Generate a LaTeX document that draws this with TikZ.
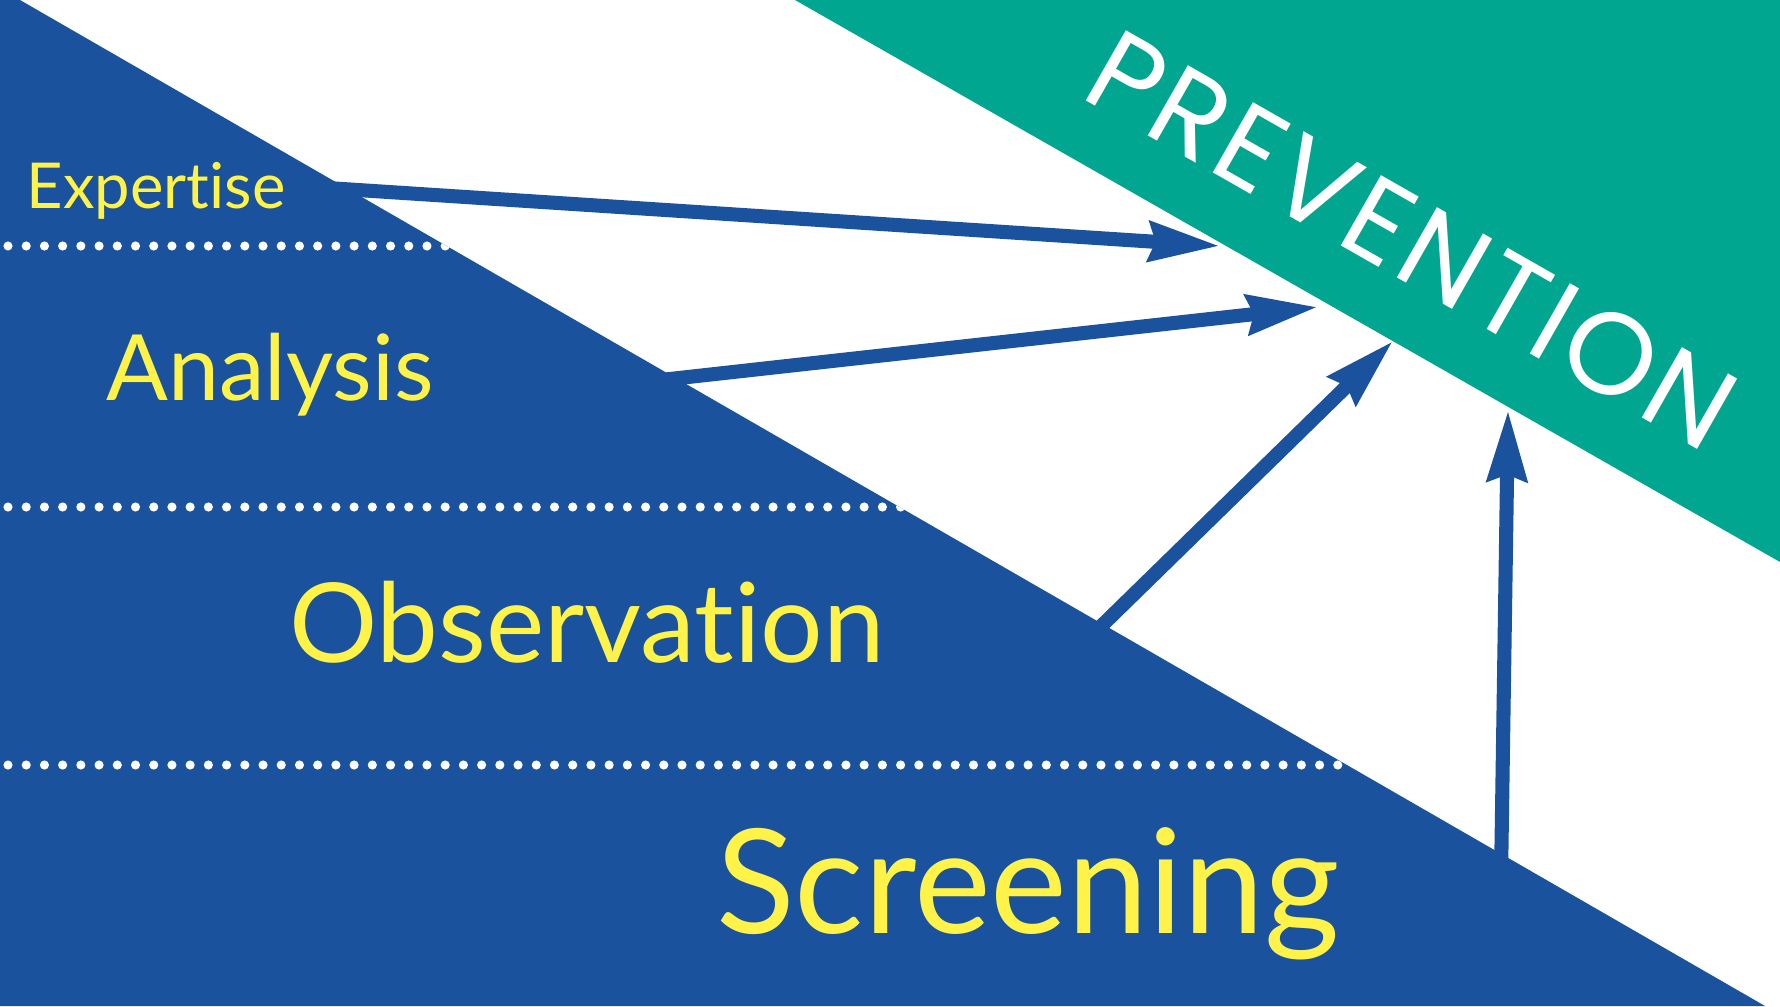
\documentclass[tikz,border=0pt]{standalone}
\usepackage{fontspec}
\newfontfamily\stagefont[Ligatures=NoCommon]{Lato}
\newfontfamily\bandfont[LetterSpace=4]{Poppins}
\usetikzlibrary{arrows.meta}

\definecolor{fieldblue}{RGB}{26,82,157}
\definecolor{bandgreen}{RGB}{0,166,144}
\definecolor{stageyellow}{RGB}{255,242,72}

\begin{document}
\begin{tikzpicture}[x=0.01cm, y=-0.01cm,
		stage/.style  = {text=stageyellow, inner sep=0pt, anchor=base},
		band/.style   = {text=white, inner sep=0pt, rotate=-29.7, font=\bandfont\fontsize{33}{38}\selectfont},
		dotrow/.style = {white, line width=2.6pt, line cap=round, dash pattern=on 0pt off 5.18pt},
		flow/.style   = {fieldblue, line width=4pt, -{Stealth[length=20pt, width=11pt, inset=1.7pt]}}]
		
		% page and the two fields
		\useasboundingbox (0,0) rectangle (1780,1006);
		\fill[white] (0,0) rectangle (1780,1006);
		\coordinate (gt) at (795,0);
		\coordinate (gr) at (1780,562);
		\coordinate (bt) at (20,0);
		\coordinate (bb) at (1765,1006);
		\fill[bandgreen] (gt) -- (1780,0) -- (gr) -- cycle;
		\fill[fieldblue] (0,0) -- (bt) -- (bb) -- (0,1006) -- cycle;
		
		% dotted separators, cut off at the edge of the blue field
		\begin{scope}
		\clip (0,0) -- (bt) -- (bb) -- (0,1006) -- cycle;
		\foreach \y in {246,507,765}
		\draw[dotrow] (8,\y) -- (1500,\y);
		\end{scope}
		
		% the four stages
		\node[stage, font=\stagefont\fontsize{18}{21}\selectfont] (exp) at (156,208) {Expertise};
		\node[stage, font=\stagefont\fontsize{26}{30}\selectfont] (ana) at (270,400) {Analysis};
		\node[stage, font=\stagefont\fontsize{31.4}{36}\selectfont] (obs) at (587,662) {Observation};
		\node[stage, font=\stagefont\fontsize{41.3}{47}\selectfont] (scr) at (1028,933) {Screening};
		
		% the green band
		\node[band] (prev) at (1412,240) {PREVENTION};
		
		% arrows leave the blue field and hit the band
		\coordinate (t1) at (327,188);
		\coordinate (t2) at (652,381);
		\coordinate (t3) at (1087,640);
		\coordinate (t4) at (1501,878);
		\coordinate (p1) at (1220,246);
		\coordinate (p2) at (1318,307);
		\coordinate (p3) at (1393,341);
		\coordinate (p4) at (1508,410);
		
		\foreach \i in {1,...,4}
		\draw[flow] (t\i) -- (p\i);
		
	\end{tikzpicture}
\end{document}
